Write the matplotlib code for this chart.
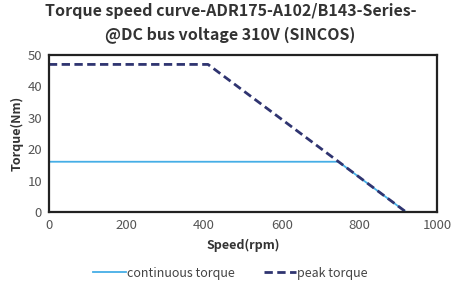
import matplotlib
matplotlib.use("Agg")
import matplotlib.pyplot as plt

plt.rcParams['font.family'] = ['Noto Sans CJK SC', 'DejaVu Sans']

cont_speed = [0, 746, 920]
cont_torque = [16, 16, 0]
peak_speed = [0, 410, 920]
peak_torque = [47, 47, 0]

f = plt.figure(figsize=(4.61, 2.88), dpi=100)
ax = f.add_axes([0.106, 0.264, 0.842, 0.545])
ax.plot(cont_speed, cont_torque, color="#45aee6", lw=1.3, label="continuous torque")
ax.plot(peak_speed, peak_torque, color="#2f3470", lw=2.0, ls=(0, (3, 1.6)), label="peak torque")
ax.set_xlim(0, 1000)
ax.set_ylim(0, 50)
ax.set_xticks(range(0, 1001, 200))
ax.set_yticks(range(0, 51, 10))
for s in ax.spines.values():
    s.set_linewidth(1.6)
    s.set_color("#222222")
ax.tick_params(length=0, labelsize=9.5, colors="#555555", pad=5)
ax.set_xlabel("Speed(rpm)", fontsize=9, fontweight="bold", color="#333333", labelpad=5)
ax.set_ylabel("Torque(Nm)", fontsize=9, fontweight="bold", color="#333333", labelpad=3)
f.suptitle("Torque speed curve-ADR175-A102/B143-Series-\n@DC bus voltage 310V (SINCOS)",
           x=0.5, y=0.99, fontsize=11.5, fontweight="bold", color="#333333", linespacing=1.55)
f.legend(loc="lower center", ncol=2, frameon=False, fontsize=9, handlelength=2.6,
         handletextpad=0.1, columnspacing=2.3, bbox_to_anchor=(0.5, -0.01),
         labelcolor="#444444")
plt.savefig("out.png", dpi=100)
